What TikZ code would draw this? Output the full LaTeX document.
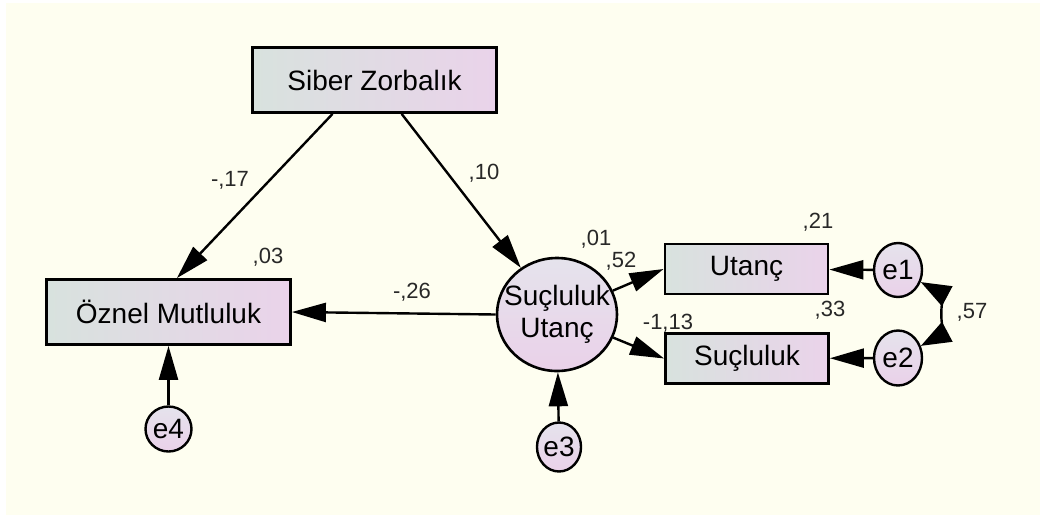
\documentclass[tikz,border=0pt]{standalone}
\usepackage{fontspec}
\setmainfont{Liberation Sans}
\usetikzlibrary{%
	calc,%
	shapes.geometric,%
	arrows.meta%
}
\definecolor{paper}{RGB}{254,254,240}
\definecolor{boxgreen}{RGB}{216,226,222}
\definecolor{boxpink}{RGB}{234,211,234}
\definecolor{ovaltop}{RGB}{229,227,236}
\definecolor{ovalpink}{RGB}{234,209,233}
\definecolor{estgray}{RGB}{40,40,40}
\tikzset{
	observed rectangle/.style={draw,line width=2.8pt,left color=boxgreen,right color=boxpink,
		inner sep=0pt,font=\fontsize{28}{32}\selectfont},
	latent ellipse/.style={ellipse,draw,line width=2.6pt,top color=ovaltop,bottom color=ovalpink,
		inner sep=0pt,font=\fontsize{28}{32}\selectfont},
	error ellipse/.style={latent ellipse,line width=2.4pt},
	path arrow/.style={line width=2.4pt,-{Triangle[length=34pt,width=19pt]}},
	covariance arrow/.style={line width=2.4pt,{Triangle[length=30pt,width=22pt]}-{Triangle[length=30pt,width=22pt]}},
	estimate label/.style={font=\fontsize{22}{24}\selectfont,text=estgray,inner sep=0pt}
}

\begin{document}
\begin{tikzpicture}[x=1pt,y=-1pt]
			\useasboundingbox (0,0) rectangle (1040,515);
			\fill[white] (0,0) rectangle (1040,515);
			\fill[paper] (6,3) rectangle (1040,515);
			%
			\node[observed rectangle,minimum width=244pt,minimum height=65pt] (sz) at (374.5,80) {Siber Zorbalık};
			\node[observed rectangle,minimum width=244pt,minimum height=65pt] (om) at (168.5,312) {Öznel Mutluluk};
			\node[observed rectangle,minimum width=163pt,minimum height=50pt] (ut) at (746.5,269) {Utanç};
			\node[observed rectangle,minimum width=163pt,minimum height=50pt] (sc) at (747,358.5) {Suçluluk};
			\node[latent ellipse,minimum width=120pt,minimum height=113pt,
				label={[align=center,font=\fontsize{28}{32}\selectfont]center:Suçluluk\\Utanç}] (su) at (557,314.5) {};
			\node[error ellipse,minimum width=48pt,minimum height=54pt] (e1) at (898,270) {e1};
			\node[error ellipse,minimum width=48pt,minimum height=55pt] (e2) at (898,358) {e2};
			\node[error ellipse,minimum width=43pt,minimum height=49pt] (e3) at (559,447) {e3};
			\node[error ellipse,minimum width=46pt,minimum height=45pt] (e4) at (168.5,429) {e4};
			%
			\coordinate (sz-l) at ($(sz.south west)!.33!(sz.south east)$);
			\coordinate (sz-r) at ($(sz.south west)!.61!(sz.south east)$);
			\coordinate (om-t) at ($(om.north west)!.534!(om.north east)$);
			%
			\path[path arrow] (sz-l) edge (om-t)
			(sz-r) edge (su)
			(su.west) edge (om.east)
			(su) edge (ut.west)
			(su) edge (sc.west)
			(e1) edge (ut)
			(e2) edge (sc)
			(e3) edge (su)
			(e4) edge (om)
			;
			\draw[covariance arrow] (e1) to[out=-28,in=28,looseness=.85] (e2);
			%
			\node[estimate label] (p-sz-om) at (230,180) {-,17};
			\node[estimate label] (p-sz-su) at (484,173) {,10};
			\node[estimate label] (r-om) at (268,257) {,03};
			\node[estimate label] (r-su) at (596,239) {,01};
			\node[estimate label] (p-su-ut) at (621,261) {,52};
			\node[estimate label] (p-su-om) at (412,292) {-,26};
			\node[estimate label] (r-ut) at (818,222) {,21};
			\node[estimate label] (r-sc) at (830,310) {,33};
			\node[estimate label] (p-su-sc) at (668,323) {-1,13};
			\node[estimate label] (c-e1-e2) at (972,312) {,57};
		\end{tikzpicture}
\end{document}
